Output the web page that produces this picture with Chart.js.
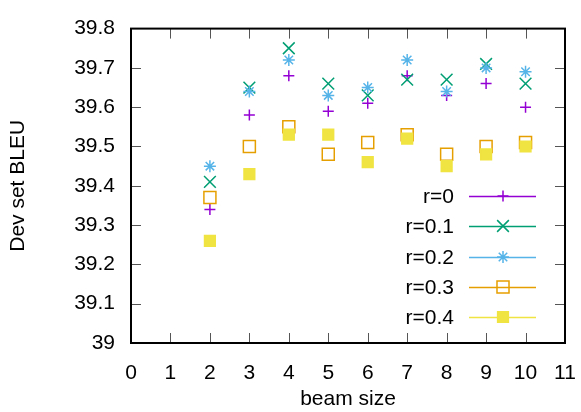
<!DOCTYPE html>
<html>
<head>
<meta charset="utf-8">
<script src="https://cdn.jsdelivr.net/npm/chart.js@4/dist/chart.umd.min.js"></script>
<style>
html,body{margin:0;padding:0;background:#fff;}
#wrap{width:581px;height:412px;}
</style>
</head>
<body>
<div id="wrap"><canvas id="c" width="581" height="412"></canvas></div>
<script>
const beamSizes = [2, 3, 4, 5, 6, 7, 8, 9, 10];
const seriesNames = ["r=0", "r=0.1", "r=0.2", "r=0.3", "r=0.4"];
const r0  = [39.34, 39.58, 39.68, 39.59, 39.61, 39.68, 39.63, 39.66, 39.60];
const r01 = [39.41, 39.65, 39.75, 39.66, 39.63, 39.67, 39.67, 39.71, 39.66];
const r02 = [39.45, 39.64, 39.72, 39.63, 39.65, 39.72, 39.64, 39.70, 39.69];
const r03 = [39.37, 39.50, 39.55, 39.48, 39.51, 39.53, 39.48, 39.50, 39.51];
const r04 = [39.26, 39.43, 39.53, 39.53, 39.46, 39.52, 39.45, 39.48, 39.50];
const xTicks = [0,1,2,3,4,5,6,7,8,9,10,11];
const yTicks = [39.0,39.1,39.2,39.3,39.4,39.5,39.6,39.7,39.8];

const FONT = "'Liberation Sans', Arial, Helvetica, sans-serif";
const FS = 21;
const colors = ["#9400d3", "#009e73", "#56b4e9", "#e69f00", "#f0e442"];
const styles = [
  {pointStyle:'cross', radius:5.5, fill:'transparent'},
  {pointStyle:'crossRot', radius:8.3, fill:'transparent'},
  {pointStyle:'star', radius:6, fill:'transparent'},
  {pointStyle:'rect', radius:8.5, fill:'transparent'},
  {pointStyle:'rect', radius:7.6, fill:null}
];
const allSeries = [r0, r01, r02, r03, r04];

const datasets = allSeries.map((vals, i) => ({
  label: seriesNames[i],
  data: beamSizes.map((b, j) => ({x: b, y: vals[j]})),
  showLine: false,
  borderColor: colors[i],
  backgroundColor: styles[i].fill === null ? colors[i] : 'rgba(0,0,0,0)',
  pointStyle: styles[i].pointStyle,
  pointRadius: styles[i].radius,
  pointHoverRadius: styles[i].radius,
  pointBorderWidth: 1.5,
  order: 4 - i
}));

const framePlugin = {
  id: 'frame',
  afterDatasetsDraw(chart) {
    const {ctx, chartArea: a, scales: {x, y}} = chart;
    ctx.save();
    ctx.strokeStyle = '#555';
    ctx.lineWidth = 1;
    const tl = 10;
    ctx.beginPath();
    xTicks.forEach(v => {
      if (v === xTicks[0] || v === xTicks[xTicks.length-1]) return;
      const px = Math.round(x.getPixelForValue(v)) + 0.5;
      ctx.moveTo(px, a.bottom); ctx.lineTo(px, a.bottom - tl);
      ctx.moveTo(px, a.top); ctx.lineTo(px, a.top + tl);
    });
    yTicks.forEach((v, k) => {
      if (k === 0 || k === yTicks.length-1) return;
      const py = Math.round(y.getPixelForValue(v)) + 0.5;
      ctx.moveTo(a.left, py); ctx.lineTo(a.left + tl, py);
      ctx.moveTo(a.right, py); ctx.lineTo(a.right - tl, py);
    });
    ctx.stroke();
    ctx.strokeStyle = '#000';
    ctx.lineWidth = 2;
    ctx.strokeRect(a.left, a.top, a.right - a.left, a.bottom - a.top);

    // legend
    const rows = [196, 226, 257, 287, 317];
    ctx.font = FS + 'px ' + FONT;
    ctx.textAlign = 'right';
    ctx.textBaseline = 'middle';
    chart.data.datasets.forEach((ds, i) => {
      const yy = rows[i];
      ctx.fillStyle = '#000';
      ctx.fillText(ds.label, 454, yy + 1);
      ctx.strokeStyle = ds.borderColor;
      ctx.lineWidth = 1.5;
      ctx.beginPath();
      ctx.moveTo(469, yy + 0.5); ctx.lineTo(536, yy + 0.5);
      ctx.stroke();
      ctx.fillStyle = ds.backgroundColor;
      Chart.helpers.drawPoint(ctx, {pointStyle: ds.pointStyle, radius: ds.pointRadius, borderWidth: 1.5, rotation: 0}, 503, yy);
    });
    ctx.restore();
  }
};

new Chart(document.getElementById('c'), {
  type: 'scatter',
  data: {datasets},
  plugins: [framePlugin],
  options: {
    responsive: false,
    animation: false,
    events: [],
    layout: {padding: {left: 0, right: 0, top: 22, bottom: 0}},
    plugins: {legend: {display: false}, tooltip: {enabled: false}},
    scales: {
      x: {
        type: 'linear',
        min: xTicks[0], max: xTicks[xTicks.length-1],
        afterFit(s) { s.height = 69; s.paddingRight = 16; },
        afterBuildTicks(s) { s.ticks = xTicks.map(v => ({value: v})); },
        grid: {display: false, drawTicks: false},
        border: {display: false},
        ticks: {color: '#000', font: {family: FONT, size: FS}, padding: 18, maxRotation: 0, autoSkip: false,
          callback: v => String(v)},
        title: {display: true, text: 'beam size', color: '#000', font: {family: FONT, size: FS}, padding: {top: 0, bottom: 0}}
      },
      y: {
        type: 'linear',
        min: yTicks[0], max: yTicks[yTicks.length-1],
        afterFit(s) { s.width = 131; },
        afterBuildTicks(s) { s.ticks = yTicks.map(v => ({value: v})); },
        grid: {display: false, drawTicks: false},
        border: {display: false},
        ticks: {color: '#000', font: {family: FONT, size: FS}, padding: 16, autoSkip: false,
          callback: v => String(Number(v.toFixed(1)))},
        title: {display: true, text: 'Dev set BLEU', color: '#000', font: {family: FONT, size: FS}, padding: {top: 6, bottom: 0}}
      }
    }
  }
});
</script>
</body>
</html>
